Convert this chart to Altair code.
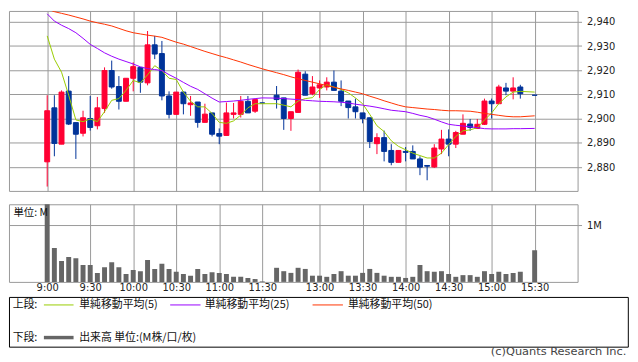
import altair as alt
import pandas as pd

# ---------------- data ----------------
times = ["9:00", "9:05", "9:10", "9:15", "9:20", "9:25", "9:30", "9:35", "9:40", "9:45",
         "9:50", "9:55", "10:00", "10:05", "10:10", "10:15", "10:20", "10:25", "10:30", "10:35",
         "10:40", "10:45", "10:50", "10:55", "11:00", "11:05", "11:10", "11:15", "11:20", "11:25",
         "11:30",
         "12:30", "12:35", "12:40", "12:45", "12:50", "12:55", "13:00", "13:05", "13:10", "13:15",
         "13:20", "13:25", "13:30", "13:35", "13:40", "13:45", "13:50", "13:55", "14:00", "14:05",
         "14:10", "14:15", "14:20", "14:25", "14:30", "14:35", "14:40", "14:45", "14:50", "14:55",
         "15:00", "15:05", "15:10", "15:15", "15:20",
         "15:30"]

opens = [2882.2, 2904.5, 2889.5, 2911.4, 2898.4, 2894.0, 2900.1, 2897.1, 2904.2, 2919.9,
         2913.3, 2907.2, 2916.7, 2921.2, 2914.8, 2930.5, 2926.9, 2909.4, 2901.8, 2911.0,
         2905.8, 2906.9, 2898.5, 2902.4, 2893.9, 2893.1, 2901.8, 2901.8, 2907.2, 2903.1,
         2906.5,
         2909.7, 2908.6, 2900.1, 2902.6, 2918.4, 2910.3, 2912.7, 2913.1, 2915.1, 2911.4,
         2907.3, 2904.9, 2902.4, 2900.4, 2889.7, 2892.2, 2886.9, 2882.0, 2886.5, 2886.5,
         2883.4, 2880.7, 2880.1, 2887.5, 2891.6, 2889.5, 2893.6, 2897.8, 2896.0, 2897.7,
         2907.3, 2906.2, 2912.7, 2911.4, 2913.1,
         2909.7]
highs = [2909.7, 2909.7, 2911.7, 2917.6, 2898.4, 2903.3, 2909.4, 2909.0, 2921.2, 2924.0,
         2917.6, 2916.7, 2923.3, 2921.2, 2936.2, 2934.2, 2932.1, 2911.3, 2911.0, 2911.3,
         2909.4, 2906.9, 2906.2, 2902.4, 2896.0, 2906.7, 2906.5, 2909.4, 2909.4, 2907.9,
         2906.5,
         2913.5, 2908.6, 2902.9, 2920.3, 2919.6, 2917.6, 2915.8, 2917.1, 2919.9, 2915.8,
         2907.3, 2908.3, 2902.4, 2900.4, 2894.0, 2895.1, 2889.5, 2886.9, 2888.3, 2889.0,
         2884.5, 2880.7, 2889.5, 2895.4, 2895.6, 2895.0, 2901.8, 2899.9, 2899.9, 2908.3,
         2908.3, 2914.0, 2914.8, 2917.1, 2914.0,
         2909.7]
lows = [2872.0, 2884.5, 2889.5, 2897.4, 2883.4, 2892.7, 2895.1, 2895.6, 2902.4, 2912.4,
        2903.8, 2907.2, 2911.3, 2910.7, 2913.8, 2924.6, 2907.6, 2900.1, 2901.8, 2901.8,
        2901.2, 2896.3, 2898.5, 2892.7, 2889.5, 2893.1, 2900.1, 2900.5, 2902.4, 2902.4,
        2906.5,
        2904.2, 2895.4, 2895.0, 2902.6, 2909.7, 2909.7, 2908.6, 2911.7, 2911.7, 2905.2,
        2900.1, 2900.1, 2898.1, 2887.9, 2885.4, 2882.4, 2880.8, 2882.0, 2882.4, 2883.4,
        2876.7, 2874.6, 2879.7, 2885.4, 2884.5, 2887.9, 2893.6, 2895.0, 2896.0, 2897.4,
        2900.1, 2906.2, 2909.7, 2908.0, 2908.3,
        2909.7]
closes = [2903.3, 2889.8, 2911.0, 2897.8, 2893.6, 2900.4, 2896.4, 2904.5, 2919.9, 2913.1,
          2907.2, 2916.7, 2921.5, 2915.1, 2930.5, 2926.7, 2909.4, 2901.8, 2911.0, 2906.2,
          2906.5, 2898.5, 2901.9, 2893.6, 2892.8, 2902.4, 2902.4, 2907.2, 2902.4, 2907.9,
          2906.5,
          2907.9, 2900.1, 2902.9, 2919.2, 2909.7, 2913.1, 2914.0, 2915.1, 2911.7, 2907.2,
          2904.6, 2902.9, 2900.1, 2890.6, 2892.2, 2886.5, 2882.0, 2886.9, 2886.1, 2883.4,
          2880.0, 2880.4, 2887.9, 2891.6, 2889.5, 2894.3, 2898.1, 2896.4, 2897.7, 2907.3,
          2906.2, 2913.1, 2911.4, 2912.7, 2910.3,
          2909.7]
volumes_m = [1.45, 0.60, 0.37, 0.44, 0.42, 0.30, 0.30, 0.16, 0.26, 0.35,
             0.26, 0.14, 0.21, 0.19, 0.39, 0.23, 0.32, 0.23, 0.18, 0.14,
             0.11, 0.23, 0.14, 0.17, 0.16, 0.14, 0.09, 0.09, 0.07, 0.05,
             0.01,
             0.25, 0.19, 0.16, 0.25, 0.23, 0.11, 0.11, 0.09, 0.14, 0.19,
             0.11, 0.11, 0.16, 0.23, 0.16, 0.11, 0.09, 0.09, 0.07, 0.09,
             0.30, 0.19, 0.18, 0.19, 0.14, 0.09, 0.12, 0.12, 0.09, 0.19,
             0.14, 0.18, 0.14, 0.16, 0.18,
             0.56]
ma5 = [2934.2, 2924.6, 2919.2, 2909.7, 2899.5, 2898.8, 2899.9, 2898.8, 2902.9, 2907.6,
       2908.3, 2911.7, 2915.8, 2914.8, 2918.1, 2921.9, 2919.9, 2916.7, 2916.2, 2911.0,
       2907.2, 2904.9, 2904.9, 2902.2, 2898.5, 2898.1, 2899.1, 2901.5, 2904.5, 2906.2,
       2906.2,
       2906.2, 2905.6, 2904.9, 2907.3, 2908.3, 2908.7, 2912.1, 2914.0, 2913.1, 2912.1,
       2910.7, 2908.6, 2906.2, 2901.8, 2897.1, 2894.7, 2890.9, 2888.6, 2887.2, 2885.8,
       2884.8, 2883.8, 2883.8, 2885.8, 2889.3, 2892.7, 2895.0, 2895.4, 2896.3, 2899.5,
       2902.4, 2906.2, 2909.0, 2911.0, 2911.3,
       2911.0]
ma25 = [2943.3, 2940.3, 2938.6, 2937.2, 2935.5, 2933.2, 2930.7, 2929.0, 2927.2, 2925.8,
        2924.6, 2923.6, 2922.6, 2921.4, 2920.7, 2920.3, 2919.9, 2918.2, 2916.7, 2915.0,
        2913.4, 2912.1, 2910.3, 2908.5, 2906.9, 2907.1, 2907.3, 2907.6, 2908.0, 2908.3,
        2908.6,
        2908.5, 2908.3, 2908.1, 2907.9, 2907.6, 2907.4, 2907.2, 2907.1, 2907.0, 2906.8,
        2906.5, 2906.0, 2905.6, 2905.2, 2904.7, 2904.1, 2903.5, 2903.2, 2902.9, 2902.2,
        2901.4, 2900.8, 2899.8, 2898.7, 2897.7, 2897.3, 2897.0, 2896.7, 2896.3, 2895.9,
        2895.8, 2895.8, 2895.8, 2895.9, 2895.9,
        2896.0]
ma50 = [2945.3, 2944.2, 2943.5, 2942.8, 2942.0, 2941.2, 2940.3, 2939.6, 2939.0, 2938.3,
        2937.3, 2936.3, 2935.5, 2935.0, 2934.5, 2934.1, 2933.6, 2932.6, 2931.6, 2930.8,
        2929.8, 2928.8, 2927.8, 2926.9, 2926.0, 2925.2, 2924.3, 2923.4, 2922.4, 2921.5,
        2920.6,
        2919.0, 2918.2, 2917.3, 2916.5, 2915.8, 2915.1, 2914.4, 2913.7, 2913.0, 2912.3,
        2911.7, 2911.0, 2910.3, 2909.3, 2908.4, 2907.4, 2906.5, 2905.6, 2904.9, 2904.6,
        2904.3, 2904.0, 2903.8, 2903.5, 2903.3, 2903.3, 2903.2, 2903.1, 2902.7, 2902.2,
        2901.8, 2901.4, 2901.0, 2900.8, 2900.8,
        2901.2]

tick_labels = ["9:00", "9:30", "10:00", "10:30", "11:00", "11:30",
               "13:00", "13:30", "14:00", "14:30", "15:00", "15:30"]
price_ticks = [2880, 2890, 2900, 2910, 2920, 2930, 2940]
volume_ticks = [1]

legend_names = ["単純移動平均(5)", "単純移動平均(25)", "単純移動平均(50)"]
legend_colors = ["#99cc00", "#9900ff", "#ff3300"]


# ---------------- helpers ----------------
def slot(t):
    """Bar slot on the time axis; the lunch break is compressed to one empty slot."""
    h, m = map(int, t.split(":"))
    mins = h * 60 + m
    if mins <= 690:
        return (mins - 540) / 5
    return (mins - 750) / 5 + 32


df = pd.DataFrame({"time": times, "open": opens, "high": highs, "low": lows,
                   "close": closes, "volume": volumes_m,
                   "ma5": ma5, "ma25": ma25, "ma50": ma50})
df["slot"] = df["time"].map(slot)
df["dir"] = ["up" if c > o else "down" for o, c in zip(df["open"], df["close"])]

tick_slots = [slot(t) for t in tick_labels]
label_expr = ("[" + ",".join(f"'{t}'" for t in tick_labels) + "][indexof(["
              + ",".join(str(int(s)) for s in tick_slots) + "], datum.value)]")

GRID = "#999999"
W = 575
H_UP = 182
H_VOL = 78.5
LATIN = "DejaVu Sans"
CJK = "Noto Sans CJK JP"

xscale = alt.Scale(domain=[-4.64, 73.3], nice=False, zero=False)
x_up_axis = alt.Axis(values=tick_slots, grid=True, gridColor=GRID, gridWidth=1,
                     labels=False, ticks=False, domain=False, title=None)
price_scale = alt.Scale(domain=[2870.2, 2944.49], nice=False, zero=False)
price_axis = alt.Axis(orient="right", values=price_ticks,
                      labelExpr="format(datum.value, ',')", grid=True,
                      gridColor=GRID, gridWidth=1, ticks=True, tickSize=4,
                      tickColor=GRID, domain=False, labelPadding=5, title=None,
                      labelFont=LATIN, labelFontSize=10, labelColor="#222222")
dir_scale = alt.Scale(domain=["up", "down"], range=["#ff0033", "#003399"])


def xenc():
    return alt.X("slot:Q", scale=xscale, axis=x_up_axis)


base = alt.Chart(df)

wick = base.mark_rule(strokeWidth=1).encode(
    x=xenc(),
    y=alt.Y("low:Q", scale=price_scale, axis=price_axis),
    y2="high:Q",
    color=alt.Color("dir:N", scale=dir_scale, legend=None),
)
body = base.mark_bar(size=5, strokeWidth=1).encode(
    x=xenc(),
    y=alt.Y("open:Q", scale=price_scale, axis=price_axis),
    y2="close:Q",
    color=alt.Color("dir:N", scale=dir_scale, legend=None),
    stroke=alt.Stroke("dir:N", scale=dir_scale, legend=None),
)
ma_layers = [
    base.mark_line(strokeWidth=1, color=c, clip=True).encode(
        x=xenc(), y=alt.Y(f"{col}:Q", scale=price_scale, axis=price_axis))
    for col, c in zip(["ma5", "ma25", "ma50"], legend_colors)
]

upper = alt.layer(wick, body, *ma_layers).properties(width=W, height=H_UP)

# ---------------- volume panel ----------------
vol_scale = alt.Scale(domain=[0, 1.377], nice=False, zero=True)
vol_bars = base.mark_bar(size=5, color="#666666", clip=True).encode(
    x=alt.X("slot:Q", scale=xscale,
            axis=alt.Axis(values=tick_slots, labelExpr=label_expr, grid=True,
                          gridColor=GRID, gridWidth=1, ticks=False, domain=False,
                          labelPadding=1, title=None, labelFont=LATIN,
                          labelFontSize=10, labelColor="#222222")),
    y=alt.Y("volume:Q", scale=vol_scale,
            axis=alt.Axis(orient="right", values=volume_ticks,
                          labelExpr="datum.value + 'M'", grid=True, gridColor=GRID,
                          gridWidth=1, ticks=True, tickSize=4, tickColor=GRID,
                          domain=False, labelPadding=5, title=None,
                          labelFont=LATIN, labelFontSize=10, labelColor="#222222")),
)

one = alt.Chart(pd.DataFrame({"k": [0]}))


def text(s, x, y, font=CJK, size=11, color="#111111", align="left"):
    return one.mark_text(text=s, font=font, fontSize=size, color=color,
                         align=align, baseline="middle").encode(
        x=alt.value(x), y=alt.value(y))


def hline(x0, x1, y, color, width=1):
    return one.mark_rule(color=color, strokeWidth=width).encode(
        x=alt.value(x0), x2=alt.value(x1), y=alt.value(y))


unit_label = text("単位: M", 4.5, 8.5, size=10.5)

LY1 = 101.8
LY2 = 134.8
legend_box = one.mark_rect(fillOpacity=0, stroke="#000000", strokeWidth=1).encode(
    x=alt.value(0.5), x2=alt.value(626.3), y=alt.value(94.2), y2=alt.value(144.5))
legend_parts = [
    legend_box,
    text("上段:", 3.7, LY1),
    hline(35.3, 65.3, LY1, legend_colors[0]),
    text(legend_names[0], 71, LY1),
    hline(163, 193.7, LY1, legend_colors[1]),
    text(legend_names[1], 198, LY1),
    hline(307, 337.7, LY1, legend_colors[2]),
    text(legend_names[2], 342.7, LY1),
    text("下段:", 3.7, LY2),
    hline(35.3, 65.3, LY2, "#666666", 3.5),
    text("出来高 単位:(M株/口/枚)", 71, LY2),
    text("(c)Quants Research Inc.", 624.3, 149.5, font=LATIN, size=11.5,
         color="#444444", align="right"),
]

volume = alt.layer(vol_bars, unit_label, *legend_parts).properties(width=W, height=H_VOL)

chart = (
    alt.vconcat(upper, volume, spacing=11.5)
    .properties(padding=0, background="white")
    .configure_view(stroke=GRID, strokeWidth=1)
)

chart.save("out.html", embed_options={"renderer": "svg", "actions": False})
